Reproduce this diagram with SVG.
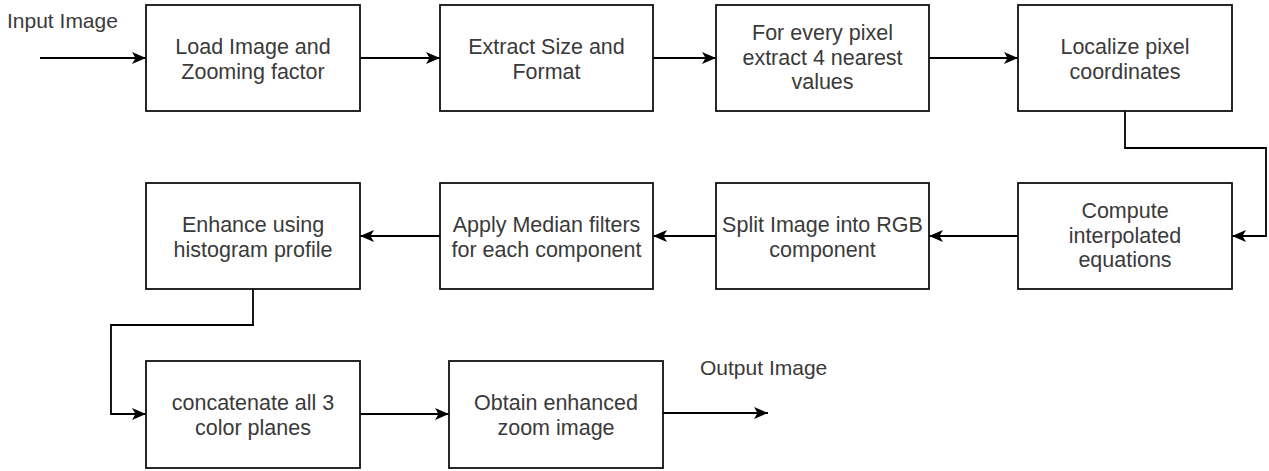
<svg xmlns="http://www.w3.org/2000/svg" width="1269" height="471" viewBox="0 0 1269 471">
  <style>
    .box { fill: #ffffff; stroke: #111111; stroke-width: 1.8; }
    .lbl { font-family: "Liberation Sans", Arial, sans-serif; font-size: 21.5px; fill: #3a3a3a; text-anchor: middle; }
    .free { font-family: "Liberation Sans", Arial, sans-serif; font-size: 21px; fill: #3a3a3a; }
    .edge { fill: none; stroke: #000000; stroke-width: 1.8; marker-end: url(#arrow); }
  </style>
  <defs>
    <marker id="arrow" viewBox="0 0 14 12" refX="14" refY="6" markerWidth="14" markerHeight="12" markerUnits="userSpaceOnUse" orient="auto">
      <path d="M0,0 L14,6 L0,12 L3.5,6 Z" fill="#000000"/>
    </marker>
  </defs>
  <rect width="1269" height="471" fill="#ffffff"/>

  <!-- free labels -->
  <text class="free" x="7" y="28">Input Image</text>
  <text class="free" x="700" y="375">Output Image</text>

  <!-- connectors -->
  <g id="connectors">
    <path class="edge" d="M40,58 H146"/>
    <path class="edge" d="M360,58 H440"/>
    <path class="edge" d="M653,58 H716"/>
    <path class="edge" d="M929,58 H1018"/>
    <path class="edge" d="M1125,111 V148 H1266 V236 H1232"/>
    <path class="edge" d="M1018,236 H929"/>
    <path class="edge" d="M716,236 H653"/>
    <path class="edge" d="M440,236 H360"/>
    <path class="edge" d="M253,289 V325 H111 V414 H146"/>
    <path class="edge" d="M360,414 H449"/>
    <path class="edge" d="M663,413 H768"/>
  </g>

  <!-- row 1 -->
  <g id="load">
    <rect class="box" x="146" y="5" width="214" height="106"/>
    <text class="lbl" x="253" y="54">Load Image and</text>
    <text class="lbl" x="253" y="78.5">Zooming factor</text>
  </g>
  <g id="extract">
    <rect class="box" x="440" y="5" width="213" height="106"/>
    <text class="lbl" x="546.5" y="54">Extract Size and</text>
    <text class="lbl" x="546.5" y="78.5">Format</text>
  </g>
  <g id="nearest">
    <rect class="box" x="716" y="5" width="213" height="106"/>
    <text class="lbl" x="822.5" y="40">For every pixel</text>
    <text class="lbl" x="822.5" y="64.5">extract 4 nearest</text>
    <text class="lbl" x="822.5" y="89">values</text>
  </g>
  <g id="localize">
    <rect class="box" x="1018" y="5" width="214" height="106"/>
    <text class="lbl" x="1125" y="54">Localize pixel</text>
    <text class="lbl" x="1125" y="78.5">coordinates</text>
  </g>

  <!-- row 2 -->
  <g id="compute">
    <rect class="box" x="1018" y="183" width="214" height="106"/>
    <text class="lbl" x="1125" y="218">Compute</text>
    <text class="lbl" x="1125" y="242.5">interpolated</text>
    <text class="lbl" x="1125" y="267">equations</text>
  </g>
  <g id="split">
    <rect class="box" x="716" y="183" width="213" height="106"/>
    <text class="lbl" x="822.5" y="232">Split Image into RGB</text>
    <text class="lbl" x="822.5" y="256.5">component</text>
  </g>
  <g id="median">
    <rect class="box" x="440" y="183" width="213" height="106"/>
    <text class="lbl" x="546.5" y="232">Apply Median filters</text>
    <text class="lbl" x="546.5" y="256.5">for each component</text>
  </g>
  <g id="enhance">
    <rect class="box" x="146" y="183" width="214" height="106"/>
    <text class="lbl" x="253" y="232">Enhance using</text>
    <text class="lbl" x="253" y="256.5">histogram profile</text>
  </g>

  <!-- row 3 -->
  <g id="concat">
    <rect class="box" x="146" y="361" width="214" height="107"/>
    <text class="lbl" x="253" y="410">concatenate all 3</text>
    <text class="lbl" x="253" y="434.5">color planes</text>
  </g>
  <g id="obtain">
    <rect class="box" x="449" y="361" width="214" height="107"/>
    <text class="lbl" x="556" y="410">Obtain enhanced</text>
    <text class="lbl" x="556" y="434.5">zoom image</text>
  </g>
</svg>
